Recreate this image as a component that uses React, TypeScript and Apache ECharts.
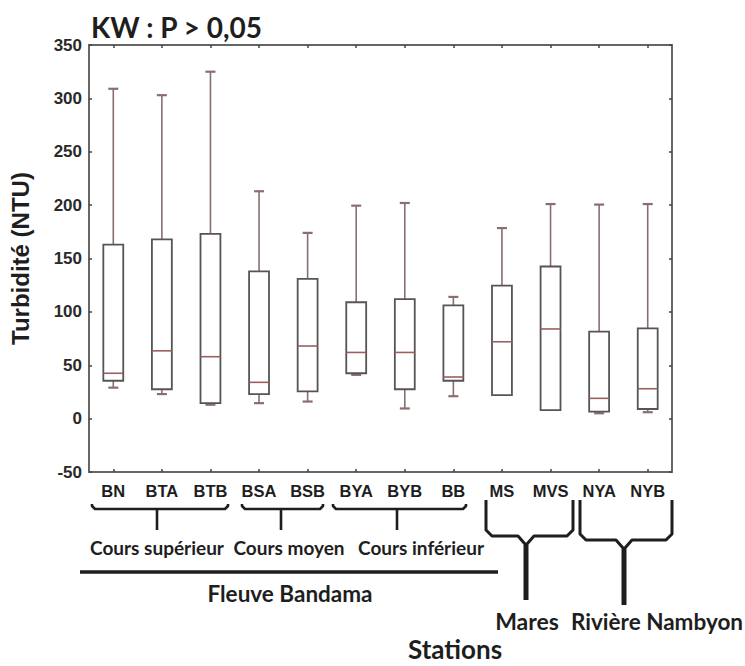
import React, { useEffect, useRef } from "react";
import * as echarts from "echarts";

// Stations along the x axis
const stations = ["BN", "BTA", "BTB", "BSA", "BSB", "BYA", "BYB", "BB", "MS", "MVS", "NYA", "NYB"];

// Turbidity (NTU) per station: min, Q1, median, Q3, max
const minVals = [29, 23, 13, 14.5, 16, 41, 9.5, 21, 22, 8, 5, 6];
const q1Vals = [35.5, 27.5, 14.5, 23, 25.5, 42.5, 27.5, 35.5, 22, 8, 6.5, 9];
const medianVals = [42.5, 63.5, 58, 34, 68, 62, 62, 39, 72, 84, 19, 28];
const q3Vals = [163, 168, 173, 138, 131, 109, 112, 106, 124.5, 142.5, 81.5, 84.5];
const maxVals = [309, 303, 325, 213, 174, 199.5, 202, 114, 178.5, 201, 200.5, 201];

const yTicks = { min: -50, max: 350, interval: 50 };

const BOX_STROKE = "#555555";
const WHISKER = "#8a6e6e";
const MEDIAN = "#9c5f5f";
const INK = "#1e1e1e";
const AXIS_FONT = "Liberation Sans";
const NOTE_FONT = "Lato";

function renderBox(params: any, api: any) {
  const idx = api.value(0);
  const mn = api.value(1);
  const q1 = api.value(2);
  const md = api.value(3);
  const q3 = api.value(4);
  const mx = api.value(5);
  const band = api.size([1, 0])[0];
  const half = band * 0.205;
  const capHalf = 5;
  const pMin = api.coord([idx, mn]);
  const pQ1 = api.coord([idx, q1]);
  const pMd = api.coord([idx, md]);
  const pQ3 = api.coord([idx, q3]);
  const pMax = api.coord([idx, mx]);
  const cx = pMd[0];
  const children: any[] = [];
  const wStyle = { stroke: WHISKER, lineWidth: 1.6 };
  const cStyle = { stroke: WHISKER, lineWidth: 2.2 };
  if (mx > q3) {
    children.push({ type: "line", shape: { x1: cx, y1: pQ3[1], x2: cx, y2: pMax[1] }, style: wStyle });
    children.push({ type: "line", shape: { x1: cx - capHalf, y1: pMax[1], x2: cx + capHalf, y2: pMax[1] }, style: cStyle });
  }
  if (mn < q1) {
    children.push({ type: "line", shape: { x1: cx, y1: pQ1[1], x2: cx, y2: pMin[1] }, style: wStyle });
    children.push({ type: "line", shape: { x1: cx - capHalf, y1: pMin[1], x2: cx + capHalf, y2: pMin[1] }, style: cStyle });
  }
  children.push({
    type: "rect",
    shape: { x: cx - half, y: pQ3[1], width: half * 2, height: pQ1[1] - pQ3[1] },
    style: { fill: "#ffffff", stroke: BOX_STROKE, lineWidth: 1.8 },
  });
  children.push({
    type: "line",
    shape: { x1: cx - half, y1: pMd[1], x2: cx + half, y2: pMd[1] },
    style: { stroke: MEDIAN, lineWidth: 1.6 },
  });
  return { type: "group", children };
}

// Curly bracket lying flat under a group of station labels
function flatBrace(x1: number, x2: number, xc: number, y0: number, y1: number, y2: number, w: number) {
  return [
    {
      type: "polyline",
      shape: { points: [[x1, y0], [x1, y1 - 3], [x1 + 3, y1], [x2 - 3, y1], [x2, y1 - 3], [x2, y0]] },
      style: { stroke: INK, lineWidth: w, fill: null, lineJoin: "round" },
    },
    { type: "line", shape: { x1: xc, y1: y1, x2: xc, y2: y2 }, style: { stroke: INK, lineWidth: w } },
  ];
}

// Tall bracket whose arms meet in a Y above the stem
function tallBrace(x1: number, x2: number, xc: number, y0: number, y1: number, y2: number) {
  const st = { stroke: INK, lineWidth: 3, fill: null, lineJoin: "round" };
  return [
    {
      type: "polyline",
      shape: { points: [[x1, y0], [x1, y1 - 6], [x1 + 6, y1], [xc - 8, y1], [xc - 1, y1 + 8], [xc - 1, y2]] },
      style: st,
    },
    {
      type: "polyline",
      shape: { points: [[x2, y0], [x2, y1 - 6], [x2 - 6, y1], [xc + 8, y1], [xc + 1, y1 + 8], [xc + 1, y2]] },
      style: st,
    },
  ];
}

function note(text: string, x: number, y: number, size: number) {
  return {
    type: "text",
    x,
    y,
    style: { text, fill: INK, font: `bold ${size}px ${NOTE_FONT}`, align: "center", verticalAlign: "middle" },
  };
}

export default function App() {
  const ref = useRef<HTMLDivElement>(null);
  useEffect(() => {
    if (!ref.current) return;
    const chart = echarts.init(ref.current, undefined, { renderer: "svg" });
    const data = stations.map((_, i) => [i, minVals[i], q1Vals[i], medianVals[i], q3Vals[i], maxVals[i]]);
    const axisLine = { show: true, onZero: false, lineStyle: { color: "#666666", width: 2 } };
    const tick = { show: true, inside: true, length: 3, lineStyle: { color: "#444444", width: 1.5 } };
    chart.setOption({
      animation: false,
      backgroundColor: "#ffffff",
      grid: { left: 85, top: 45, width: 587, height: 427, show: false },
      xAxis: [
        {
          type: "category",
          data: stations,
          boundaryGap: true,
          axisLine,
          axisTick: { ...tick, alignWithLabel: true },
          axisLabel: {
            margin: 10,
            color: INK,
            fontSize: 16.5,
            fontWeight: "bold",
            fontFamily: AXIS_FONT,
          },
          splitLine: { show: false },
        },
        {
          type: "category",
          position: "top",
          data: stations,
          boundaryGap: true,
          axisLine,
          axisTick: { ...tick, alignWithLabel: true },
          axisLabel: { show: false },
        },
      ],
      yAxis: [
        {
          type: "value",
          min: yTicks.min,
          max: yTicks.max,
          interval: yTicks.interval,
          axisLine,
          axisTick: tick,
          splitLine: { show: false },
          axisLabel: {
            margin: 7,
            color: "#2a2a2a",
            fontSize: 17,
            fontWeight: "bold",
            fontFamily: AXIS_FONT,
          },
          name: "Turbidité (NTU)",
          nameLocation: "middle",
          nameGap: 57,
          nameRotate: 90,
          nameTextStyle: {
            color: INK,
            fontSize: 24,
            fontWeight: "bold",
            fontFamily: AXIS_FONT,
          },
        },
        {
          type: "value",
          position: "right",
          min: yTicks.min,
          max: yTicks.max,
          interval: yTicks.interval,
          axisLine,
          axisTick: tick,
          splitLine: { show: false },
          axisLabel: { show: false },
        },
      ],
      series: [
        {
          type: "custom",
          renderItem: renderBox,
          data,
          encode: { x: 0, y: [1, 2, 3, 4, 5] },
          clip: false,
        },
      ],
      graphic: [
        {
          type: "text",
          x: 91,
          y: 27,
          style: { text: "KW : P > 0,05", fill: INK, font: `bold 28px ${NOTE_FONT}`, verticalAlign: "middle" },
        },
        ...flatBrace(92, 228, 157, 504, 509, 530, 2.6),
        ...flatBrace(242, 323, 281, 504, 509, 530, 2.6),
        ...flatBrace(333, 466, 397, 504, 509, 530, 2.6),
        note("Cours supérieur", 157, 547, 19),
        note("Cours moyen", 289, 547, 19),
        note("Cours inférieur", 421, 547, 19),
        { type: "line", shape: { x1: 80, y1: 572, x2: 498, y2: 572 }, style: { stroke: INK, lineWidth: 3.5 } },
        note("Fleuve Bandama", 290, 593, 22.5),
        ...tallBrace(486, 573, 526, 500, 536, 600),
        ...tallBrace(580, 672, 624, 500, 540, 605),
        note("Mares", 527, 621, 23),
        note("Rivière Nambyon", 657, 621, 22.5),
        note("Stations", 455, 649, 26),
      ],
    });
    return () => chart.dispose();
  }, []);
  return (
    <div
      ref={ref}
      style={{ position: "absolute", left: 0, top: 0, width: 745, height: 666, background: "#ffffff" }}
    />
  );
}
